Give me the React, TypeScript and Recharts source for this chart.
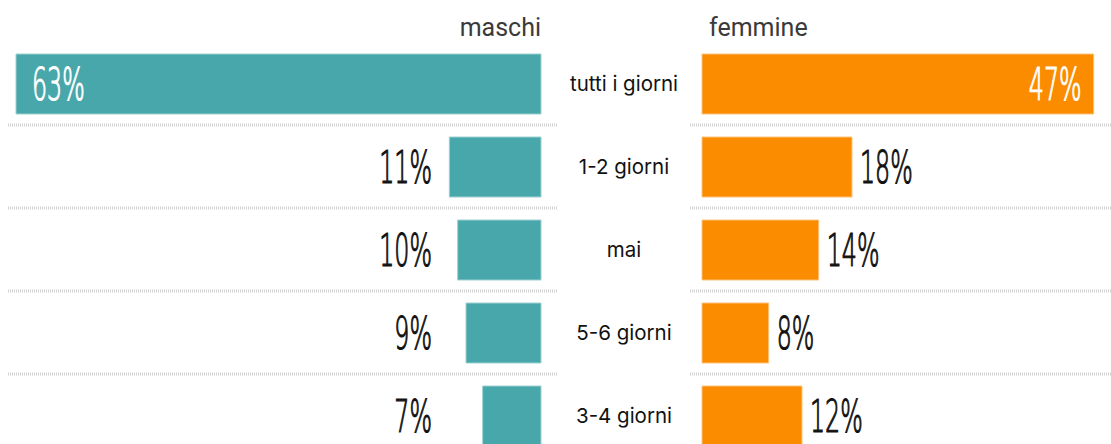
import React from 'react';
import { Bar, BarChart, LabelList, XAxis, YAxis } from 'recharts';

const categorie = ['tutti i giorni', '1-2 giorni', 'mai', '5-6 giorni', '3-4 giorni'];
const maschi = [63, 11, 10, 9, 7];
const femmine = [47, 18, 14, 8, 12];

const rows = categorie.map((giorni, i) => ({ giorni, maschi: maschi[i], femmine: femmine[i] }));

const TEAL = '#48A7AA';
const ORANGE = '#FB8C00';
const ROW_H = 83;
const MAX = Math.max(...maschi, ...femmine);
const HAND = "'DejaVu Sans', sans-serif";
const UI = "Inter, Roboto, sans-serif";

// dotted separators under each row, placed from the category axis ticks
function MiddleTick(props: any) {
  const { y, payload } = props;
  const yy = y + ROW_H / 2;
  const dot = { stroke: '#d2d2d2', strokeWidth: 3, strokeDasharray: '1 1' };
  return (
    <g>
      <line x1={8} x2={558} y1={yy} y2={yy} {...dot} />
      <line x1={690} x2={1111} y1={yy} y2={yy} {...dot} />
      <text x={624} y={y} textAnchor="middle" dominantBaseline="central" fontFamily={UI} fontSize={20.5} fill="#111">
        {payload.value}
      </text>
    </g>
  );
}

function HandText({ x, y, anchor, fill, value }: any) {
  return (
    <text
      transform={`translate(${x},${y}) scale(0.54,1)`}
      textAnchor={anchor}
      dominantBaseline="central"
      fontFamily={HAND}
      fontWeight={200}
      fontSize={44}
      fill={fill}
      stroke={fill}
      strokeWidth={1.2}
    >
      {value}%
    </text>
  );
}

function LeftLabel(props: any) {
  const { x, y, width, height, value } = props;
  const left = Math.min(x, x + width);
  const big = value === Math.max(...maschi);
  return big ? (
    <HandText x={left + 16} y={y + height / 2} anchor="start" fill="#fff" value={value} />
  ) : (
    <HandText x={432} y={y + height / 2} anchor="end" fill="#111" value={value} />
  );
}

function RightLabel(props: any) {
  const { x, y, width, height, value } = props;
  const right = Math.max(x, x + width);
  const big = value === Math.max(...femmine);
  return big ? (
    <HandText x={right - 12} y={y + height / 2} anchor="end" fill="#fff" value={value} />
  ) : (
    <HandText x={right + 8} y={y + height / 2} anchor="start" fill="#111" value={value} />
  );
}

export default function App() {
  return (
    <div style={{ position: 'absolute', left: 0, top: 0, width: 1111, height: 444, overflow: 'hidden', background: '#fff' }}>
      <div style={{ position: 'absolute', left: 0, top: 0 }}>
        <BarChart width={558} height={460} data={rows} layout="vertical" margin={{ top: 42, right: 17, left: 16, bottom: 3 }}>
          <XAxis type="number" domain={[0, MAX]} reversed hide />
          <YAxis type="category" dataKey="giorni" hide />
          <Bar dataKey="maschi" fill={TEAL} stroke="#9fd0d2" strokeWidth={1} barSize={60} isAnimationActive={false}>
            <LabelList dataKey="maschi" content={<LeftLabel />} />
          </Bar>
        </BarChart>
      </div>
      <div style={{ position: 'absolute', left: 0, top: 0 }}>
        <BarChart width={1227} height={460} data={rows} layout="vertical" margin={{ top: 42, right: 0, left: 541, bottom: 3 }}>
          <XAxis type="number" domain={[0, MAX]} hide />
          <YAxis type="category" dataKey="giorni" width={161} axisLine={false} tickLine={false} tick={<MiddleTick />} />
          <Bar dataKey="femmine" fill={ORANGE} stroke="#fcc27a" strokeWidth={1} barSize={60} isAnimationActive={false}>
            <LabelList dataKey="femmine" content={<RightLabel />} />
          </Bar>
        </BarChart>
      </div>
      <div style={{ position: 'absolute', right: 1111 - 541, top: 13, fontFamily: 'Roboto, sans-serif', fontSize: 25, color: '#3a3a3a' }}>
        maschi
      </div>
      <div style={{ position: 'absolute', left: 709, top: 13, fontFamily: 'Roboto, sans-serif', fontSize: 25, color: '#3a3a3a' }}>
        femmine
      </div>
    </div>
  );
}
